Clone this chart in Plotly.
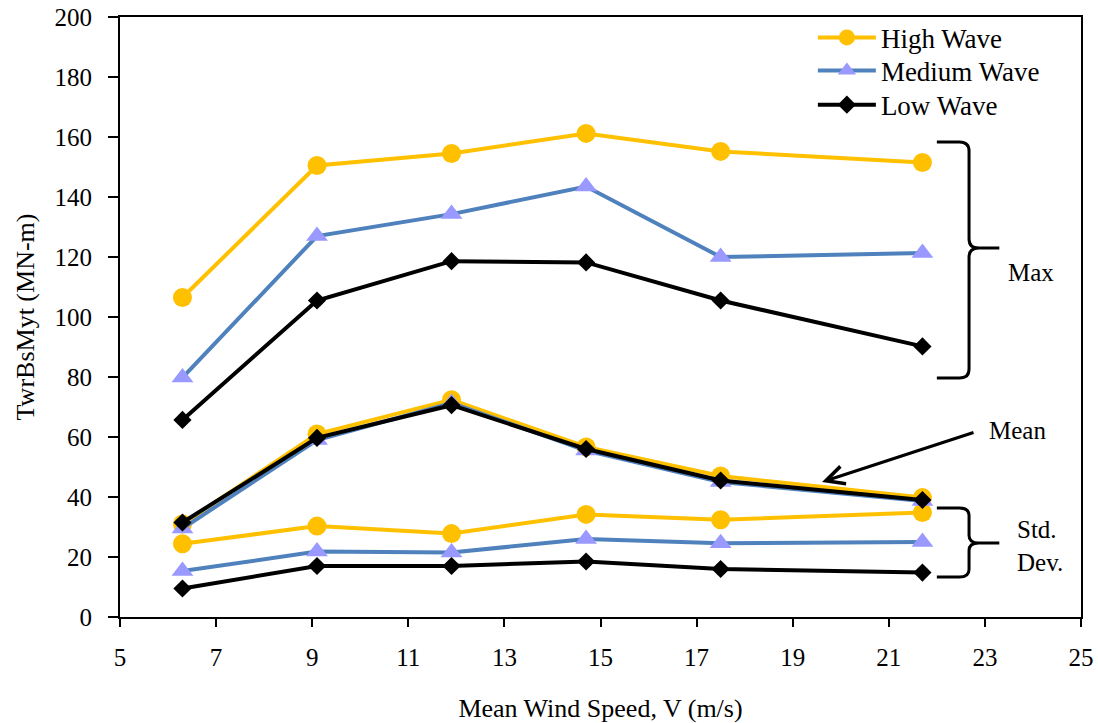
import plotly.graph_objects as go

wind_speed = [6.3, 9.1, 11.9, 14.7, 17.5, 21.7]

high_max = [106.5, 150.5, 154.5, 161.2, 155.2, 151.5]
high_mean = [31.0, 61.0, 72.4, 56.7, 47.0, 39.8]
high_std = [24.4, 30.3, 27.8, 34.2, 32.4, 34.8]

medium_max = [79.8, 127.0, 134.3, 143.5, 120.0, 121.3]
medium_mean = [29.5, 59.0, 71.3, 55.5, 45.0, 38.7]
medium_std = [15.3, 21.8, 21.5, 26.0, 24.6, 25.0]

low_max = [65.7, 105.5, 118.6, 118.2, 105.5, 90.2]
low_mean = [31.5, 59.7, 70.6, 56.0, 45.5, 39.0]
low_std = [9.5, 17.0, 17.0, 18.5, 16.0, 14.8]

series_names = ["High Wave", "Medium Wave", "Low Wave"]
legend_ids = ["legend", "legend2", "legend3"]

FONT = "Liberation Serif, Times New Roman, serif"

styles = {
    "High Wave": dict(line=dict(color="#FFC000", width=4),
                      marker=dict(symbol="circle", size=19, color="#FFC000")),
    "Medium Wave": dict(line=dict(color="#4F81BD", width=4),
                        marker=dict(symbol="triangle-up", size=19, color="#9999FF")),
    "Low Wave": dict(line=dict(color="#000000", width=4),
                     marker=dict(symbol="diamond", size=14, color="#000000")),
}

data = {
    "High Wave": [high_max, high_mean, high_std],
    "Medium Wave": [medium_max, medium_mean, medium_std],
    "Low Wave": [low_max, low_mean, low_std],
}

fig = go.Figure()
for group_idx in [2, 1, 0]:
    for name, lg in zip(series_names, legend_ids):
        st = styles[name]
        fig.add_trace(go.Scatter(
            x=wind_speed, y=data[name][group_idx], mode="lines+markers",
            name=name, legendgroup=name, showlegend=(group_idx == 0),
            legend=lg,
            line=st["line"], marker=st["marker"], cliponaxis=False,
        ))


def brace(x0, xv, xtip, ytop, ymid, ybot, rx=0.2, ry=3.0):
    return (f"M {x0},{ytop} L {xv-rx},{ytop} Q {xv},{ytop} {xv},{ytop-ry} "
            f"L {xv},{ymid+ry} Q {xv},{ymid} {xv+rx},{ymid} L {xtip},{ymid} "
            f"M {xv+rx},{ymid} Q {xv},{ymid} {xv},{ymid-ry} "
            f"L {xv},{ybot+ry} Q {xv},{ybot} {xv-rx},{ybot} L {x0},{ybot}")


shapes = [
    dict(type="path", xref="x", yref="y",
         path=brace(22.0, 22.67, 23.3, 158.3, 123.0, 79.7),
         line=dict(color="black", width=3)),
    dict(type="path", xref="x", yref="y",
         path=brace(22.0, 22.67, 23.3, 36.3, 24.7, 13.3, ry=2.5),
         line=dict(color="black", width=3)),
]

annotations = [
    dict(x=23.95, y=115, xref="x", yref="y", text="Max", showarrow=False,
         font=dict(family=FONT, size=25, color="black")),
    dict(x=23.67, y=62.3, xref="x", yref="y", text="Mean", showarrow=False,
         font=dict(family=FONT, size=25, color="black")),
    dict(x=23.62, y=23.7, xref="x", yref="y", text="Std.<br>Dev.", showarrow=False,
         xanchor="left", align="left",
         font=dict(family=FONT, size=25, color="black")),
    dict(x=19.61, y=45.0, xref="x", yref="y", text="", showarrow=True,
         ax=153, ay=-50, arrowhead=5, arrowsize=1.2, arrowwidth=3,
         arrowcolor="black"),
]

legend_style = dict(x=0.721, xanchor="left", yanchor="top",
                    bgcolor="rgba(0,0,0,0)", itemwidth=58,
                    font=dict(family=FONT, size=27, color="black"))

fig.update_layout(
    width=1098, height=723,
    margin=dict(l=120, r=17, t=17, b=106, autoexpand=False),
    paper_bgcolor="white", plot_bgcolor="white",
    font=dict(family=FONT, size=25, color="black"),
    showlegend=True,
    legend=dict(y=1.006, **legend_style),
    legend2=dict(y=0.951, **legend_style),
    legend3=dict(y=0.894, **legend_style),
    shapes=shapes,
    annotations=annotations,
    xaxis=dict(range=[5, 25], tickmode="array",
               tickvals=list(range(5, 26, 2)), automargin=False,
               showgrid=False, zeroline=False, showline=True, linecolor="black",
               linewidth=2, mirror=True, ticks="outside", ticklen=8,
               tickwidth=2, tickcolor="black", ticklabelstandoff=9,
               title=dict(text="Mean Wind Speed, V (m/s)", standoff=30,
                          font=dict(family=FONT, size=26))),
    yaxis=dict(range=[0, 200], tickmode="array",
               tickvals=list(range(0, 201, 20)), automargin=False,
               showgrid=False, zeroline=False, showline=True, linecolor="black",
               linewidth=2, mirror=True, ticks="outside", ticklen=10,
               tickwidth=2, tickcolor="black", ticklabelstandoff=11,
               title=dict(text="TwrBsMyt (MN-m)", standoff=12,
                          font=dict(family=FONT, size=26))),
)

fig.write_html("out.html", config={"displayModeBar": False},
               post_script="document.body.style.margin='0';document.body.style.overflow='hidden';")
